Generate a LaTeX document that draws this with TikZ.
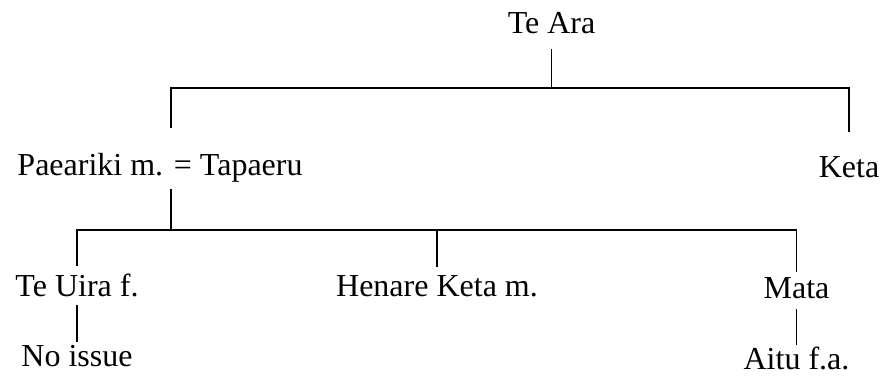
\documentclass[tikz,border=0pt]{standalone}
\usepackage{fontspec}
\setmainfont{Liberation Serif}
\usetikzlibrary{calc}
\tikzset{
  famline/.style={draw=black, line width=1.7pt},
  person/.style={font=\fontsize{32}{38}\selectfont, inner sep=0pt, anchor=base,
    text height=22pt, text depth=0pt},
}
\begin{document}
\begin{tikzpicture}[x=1pt,y=-1pt]
  \useasboundingbox (0,0) rectangle (880,377);

  \node[person] (tearA) at (551.5,34) {Te Ara};
  \node[person] (paeariki) at (160,175) {Paeariki m. = Tapaeru};
  \node[person] (keta) at (849,177) {Keta};
  \node[person] (teuira) at (77,296) {Te Uira f.};
  \node[person] (henare) at (437,296) {Henare Keta m.};
  \node[person] (mata) at (796.5,298) {Mata};
  \node[person] (noissue) at (77,366) {No issue};
  \node[person] (aitu) at (796.5,369) {Aitu f.a.};

  \coordinate (upbar) at (0,88);
  \coordinate (lowbar) at (0,230);
  \coordinate (paeTick) at ($(paeariki.north)+(11,0)$);

  % Te Ara and children
  \draw[famline, shorten <=15pt] (tearA.south) -- (tearA.south |- upbar);
  \draw[famline, shorten <=25pt, shorten >=23pt]
    (paeTick) -- (paeTick |- upbar) -- (keta.north |- upbar) -- (keta.north);

  % Paeariki and Tapaeru's children
  \draw[famline, shorten <=14pt] (paeariki.south -| paeTick) -- (paeTick |- lowbar);
  \draw[famline, shorten <=8pt, shorten >=4pt]
    (teuira.north) -- (teuira.north |- lowbar) -- (mata.north |- lowbar) -- (mata.north);
  \draw[famline, shorten >=7pt] (henare.north |- lowbar) -- (henare.north);

  % next generation
  \draw[famline, shorten <=9pt, shorten >=2pt] (teuira.south) -- (noissue.north);
  \draw[famline, shorten <=11pt, shorten >=2pt] (mata.south) -- (aitu.north);
\end{tikzpicture}
\end{document}
